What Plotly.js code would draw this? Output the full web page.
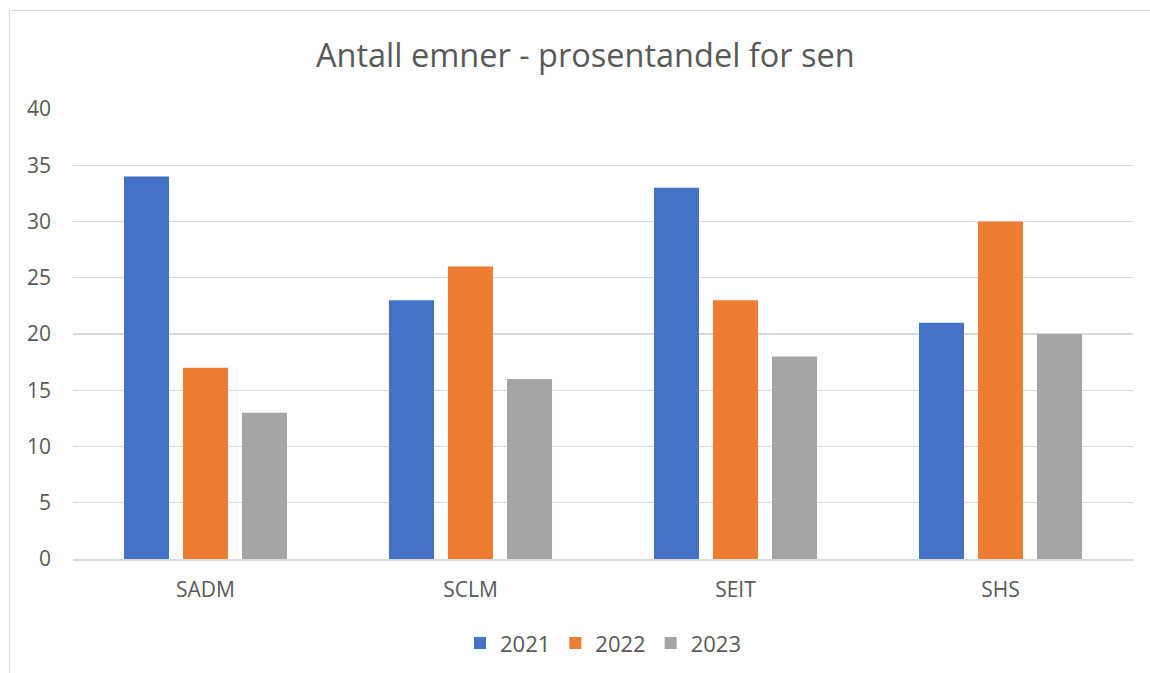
<!DOCTYPE html>
<html><head><meta charset="utf-8">
<script src="https://cdn.plot.ly/plotly-3.0.1.min.js"></script>
<style>
html,body{margin:0;padding:0;background:#fff;overflow:hidden}
#frame{position:absolute;left:9px;top:10px;width:1160px;height:700px;border:1.5px solid #d9d9d9;box-sizing:border-box}
#chart{position:absolute;left:0;top:0;width:1150px;height:673px}
</style></head>
<body>
<div id="frame"></div>
<div id="chart"></div>
<script>
const categories = ["SADM","SCLM","SEIT","SHS"];
const seriesNames = ["2021","2022","2023"];
const v2021 = [34,23,33,21];
const v2022 = [17,26,23,30];
const v2023 = [13,16,18,20];
const colors = ["#4472c4","#ed7d31","#a5a5a5"];
const values = [v2021, v2022, v2023];
const traces = seriesNames.map((n,i)=>({
  type:'bar', name:n, x:categories, y:values[i],
  marker:{color:colors[i]}, hoverinfo:'none'
}));
const font = "Open Sans, Liberation Sans, sans-serif";
Plotly.newPlot('chart', traces, {
  width:1150, height:673,
  paper_bgcolor:'rgba(0,0,0,0)', plot_bgcolor:'rgba(0,0,0,0)',
  margin:{l:73, r:17, t:109, b:114, autoexpand:false},
  barmode:'group', bargap:0.332, bargroupgap:0.237,
  title:{text:'Antall emner - prosentandel for sen', x:0.509, xanchor:'center', y:0.918, yanchor:'middle',
    font:{family:font, size:32.5, color:'#595959'}},
  xaxis:{automargin:false, showgrid:false, showline:true, linecolor:'#d9d9d9', linewidth:1.5, ticks:'',
    tickfont:{family:font, size:21, color:'#595959'}, ticklabelstandoff:11},
  yaxis:{automargin:false, range:[0,40], dtick:5, showgrid:true, gridcolor:'#d9d9d9', gridwidth:1.3, zeroline:false,
    showline:false, ticks:'', tickfont:{family:font, size:21, color:'#595959'}, ticklabelstandoff:21},
  legend:{orientation:'h', x:0.5, xanchor:'center', y:-0.187, yanchor:'middle',
    font:{family:font, size:22, color:'#595959'}, itemwidth:30, traceorder:'normal'},
  showlegend:true
}, {displayModeBar:false, staticPlot:true});
</script>
</body></html>
